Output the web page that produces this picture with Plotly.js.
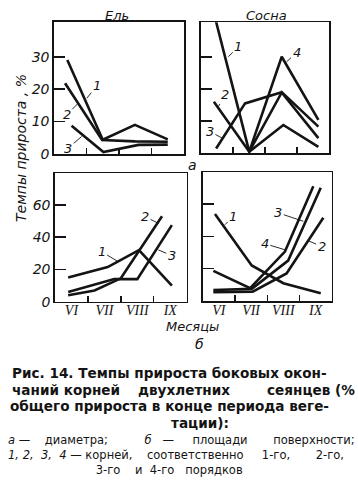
<!DOCTYPE html>
<html><head><meta charset="utf-8">
<script src="https://cdn.plot.ly/plotly-3.0.1.min.js"></script>
<style>html,body{margin:0;padding:0;background:#fff;}#chart{width:358px;height:489px;}</style>
</head><body><div id="chart"></div>
<script>
// Month categories (x axis), positions of month centres
const months = ['VI', 'VII', 'VIII', 'IX'];
const monthPos = [0.5, 1.5, 2.5, 3.5];
const monthBounds = [1, 2, 3];
const yTicksA = [0, 10, 20, 30];
const yTicksB = [0, 20, 40, 60];

// а — диаметр, Ель (spruce)
const elA1x = [0.41, 1.5, 2.49, 3.5],  elA1y = [29, 4.4, 9, 4.5];
const elA2x = [0.34, 1.48, 2.49, 3.5], elA2y = [21.8, 4.3, 3.9, 3.8];
const elA3x = [0.54, 1.52, 2.6, 3.5],  elA3y = [8.7, 0.6, 2.8, 2.9];

// а — диаметр, Сосна (pine)
const soA1x = [0.45, 1.51, 2.57, 3.66], soA1y = [42, 0.5, 8.8, 2.0];
const soA2x = [0.41, 1.51, 2.52, 3.66], soA2y = [16, 0.5, 18.9, 4.7];
const soA3x = [0.48, 1.38, 2.52, 3.66], soA3y = [1.5, 15.5, 19, 8.3];
const soA4x = [1.51, 2.52, 3.66],       soA4y = [0.5, 30, 10.4];

// б — площадь поверхности, Ель
const elB1x = [0.4, 1.6, 2.55, 3.55], elB1y = [15, 21.5, 32, 10];
const elB2x = [0.4, 1.2, 2.0, 3.25],  elB2y = [4, 7, 14.5, 53];
const elB3x = [0.4, 1.8, 2.5, 3.55],  elB3y = [6, 14, 14, 47.5];

// б — площадь поверхности, Сосна
const soB1x = [0.38, 1.52, 2.5, 3.66],  soB1y = [53.8, 22, 11, 4.8];
const soB2x = [0.33, 1.55, 2.6, 3.74],  soB2y = [5.4, 5.8, 17, 51.5];
const soB3x = [0.33, 1.52, 2.65, 3.66], soB3y = [6.8, 7.5, 25, 70];
const soB4x = [0.33, 1.47, 2.55, 3.43], soB4y = [18.6, 7.9, 30.6, 71];

const INK = '#141414';
const italic = (size, fam) => ({family: fam || 'DejaVu Sans, sans-serif', size: size, color: INK, style: 'italic'});

function line(x, y, xa, ya) {
  return {x: x, y: y, xaxis: xa, yaxis: ya, mode: 'lines', type: 'scatter',
    line: {color: INK, width: 2.6}, hoverinfo: 'skip', showlegend: false};
}

const traces = [
  line(elA1x, elA1y, 'x', 'y'), line(elA2x, elA2y, 'x', 'y'), line(elA3x, elA3y, 'x', 'y'),
  line(soA1x, soA1y, 'x2', 'y2'), line(soA2x, soA2y, 'x2', 'y2'), line(soA3x, soA3y, 'x2', 'y2'), line(soA4x, soA4y, 'x2', 'y2'),
  line(elB1x, elB1y, 'x3', 'y3'), line(elB2x, elB2y, 'x3', 'y3'), line(elB3x, elB3y, 'x3', 'y3'),
  line(soB1x, soB1y, 'x4', 'y4'), line(soB2x, soB2y, 'x4', 'y4'), line(soB3x, soB3y, 'x4', 'y4'), line(soB4x, soB4y, 'x4', 'y4')
];

const W = 358, H = 489;
const dx = (a, b) => [a / W, b / W];
const dy = (top, bot) => [1 - bot / H, 1 - top / H];

function xax(dom, labels, anchor) {
  return {domain: dom, anchor: anchor, range: [0, 4], showgrid: false, zeroline: false,
    showline: true, linecolor: INK, linewidth: 1.7, mirror: true,
    tickmode: 'array', tickvals: monthPos, ticktext: months, ticks: '', ticklen: 0,
    ticklabelstandoff: -5,
    showticklabels: labels, tickfont: italic(14, 'Liberation Serif, serif'),
    minor: {tickmode: 'array', tickvals: monthBounds, ticks: 'inside', ticklen: 6, tickwidth: 1.4, tickcolor: INK},
    fixedrange: true};
}
function yax(dom, rng, tv, labels, anchor) {
  return {domain: dom, anchor: anchor, range: rng, showgrid: false, zeroline: false,
    showline: true, linecolor: INK, linewidth: 1.7, mirror: true,
    tickmode: 'array', tickvals: tv, ticks: 'inside', ticklen: 11, tickwidth: 1.6, tickcolor: INK,
    showticklabels: labels, tickfont: italic(14), fixedrange: true};
}

function lab(t, xr, yr, x, y, ax, ay) {
  return {text: t, xref: xr, yref: yr, x: x, y: y, ax: ax, ay: ay, showarrow: true,
    arrowhead: 0, arrowwidth: 0.9, arrowcolor: INK, standoff: 0, startstandoff: 0,
    font: italic(13)};
}
function txt(t, x, y, font, anchor) {
  return {text: t, xref: 'paper', yref: 'paper', x: x / W, y: 1 - y / H, showarrow: false,
    xanchor: anchor || 'center', yanchor: 'middle', font: font};
}

const capFont = {family: 'DejaVu Sans, sans-serif', size: 13.6, color: INK, weight: 'bold'};
const SMALL = 11.5;
const smallFont = {family: 'DejaVu Sans, sans-serif', size: SMALL, color: INK};

// justified legend lines: words are placed at their reference start positions with no-break spaces,
// measured with an SVG text element so that widths match the SVG rendering
const svgNS = 'http://www.w3.org/2000/svg';
const mSvg = document.createElementNS(svgNS, 'svg');
mSvg.setAttribute('width', '10'); mSvg.setAttribute('height', '10');
const mTxt = document.createElementNS(svgNS, 'text');
mTxt.setAttribute('style', 'font-family:"DejaVu Sans",sans-serif;font-size:' + SMALL + 'px;white-space:pre;');
mSvg.appendChild(mTxt);
document.body.appendChild(mSvg);
function measure(t) {
  mTxt.textContent = t;
  return mTxt.getComputedTextLength();
}
function placeWords(items, x0) {
  let s = '', plain = '';
  items.forEach((w, i) => {
    let n = 0;
    while (x0 + measure(plain + '\u00A0'.repeat(n + 1)) <= w[1] + 0.5 || (i > 0 && n < 1)) n++;
    s += '\u00A0'.repeat(n); plain += '\u00A0'.repeat(n);
    s += w[2] ? '<i>' + w[0] + '</i>' : w[0];
    plain += w[0];
  });
  return s;
}
const L0 = 8;
const legendText = [
  placeWords([['а', 8, 1], ['—', 20], ['диаметра;', 45], ['б', 147, 1], ['—', 163], ['площади', 192], ['поверхности;', 273]], L0),
  placeWords([['1,', 8, 1], ['2,', 23, 1], ['3,', 42, 1], ['4', 60, 1], ['—', 67], ['корней,', 84], ['соответственно', 147], ['1-го,', 263], ['2-го,', 318]], L0),
  placeWords([['3-го', 98], ['и', 135], ['4-го', 152], ['порядков', 188]], L0)
].join('<br>');
document.body.removeChild(mSvg);

const annotations = [
  // line labels
  lab('1', 'x', 'y', 1.01, 17.2, 10, -12.6),
  lab('2', 'x', 'y', 0.72, 15.4, -10.6, 10.7),
  lab('3', 'x', 'y', 0.85, 5.4, -13.4, 11.6),
  lab('1', 'x2', 'y2', 0.86, 30, 10, -10),
  lab('2', 'x2', 'y2', 0.55, 14.5, 6.7, -11.7),
  lab('3', 'x2', 'y2', 0.67, 4.7, -12.3, -6.6),
  lab('4', 'x2', 'y2', 2.67, 28.4, 10, -9.4),
  lab('1', 'x3', 'y3', 1.92, 24.8, -16.6, -10),
  lab('2', 'x3', 'y3', 3.14, 48.6, -13.3, -6.6),
  lab('3', 'x3', 'y3', 3.14, 32.1, 13.4, 5.7),
  lab('1', 'x4', 'y4', 0.69, 47.2, 8.3, -8.3),
  lab('3', 'x4', 'y4', 3.12, 49.3, -25, -8.4),
  lab('4', 'x4', 'y4', 2.55, 31.7, -20, -6),
  lab('2', 'x4', 'y4', 3.27, 37.3, 13.4, 5.7),
  // panel titles and letters
  txt('Ель', 117, 15, italic(13)),
  txt('Сосна', 266, 15, italic(13)),
  txt('а', 192, 165, italic(14)),
  txt('Месяцы', 192, 326, italic(13)),
  txt('б', 199, 344, italic(14)),
  {text: 'Темпы прироста , %', xref: 'paper', yref: 'paper', x: 21 / W, y: 1 - 148 / H,
    showarrow: false, textangle: -90, xanchor: 'center', yanchor: 'middle', font: italic(14)},
  // caption
  txt('Рис. 14. Темпы прироста боковых окон-', 10, 373, capFont, 'left'),
  txt('чаний корней', 10, 390, capFont, 'left'),
  txt('двухлетних', 184, 390, capFont, 'center'),
  txt('сеянцев (%', 357, 390, capFont, 'right'),
  txt('общего прироста в конце периода веге-', 8, 406, capFont, 'left'),
  txt('тации):', 200, 423, capFont, 'center'),
  {text: legendText, xref: 'paper', yref: 'paper', x: L0 / W, y: 1 - 455 / H, showarrow: false,
    xanchor: 'left', yanchor: 'middle', align: 'left', borderpad: 0, borderwidth: 0, font: smallFont}
];

const layout = {
  width: W, height: H, margin: {l: 0, r: 0, t: 0, b: 0},
  paper_bgcolor: '#fff', plot_bgcolor: '#fff', showlegend: false,
  xaxis:  xax(dx(54, 184), false, 'y'),
  yaxis:  yax(dy(22, 154), [0, 40.7], yTicksA, true, 'x'),
  xaxis2: xax(dx(200.7, 329.3), false, 'y2'),
  yaxis2: yax(dy(22.3, 153.3), [0, 40.7], yTicksA, false, 'x2'),
  xaxis3: xax(dx(55, 186.7), true, 'y3'),
  yaxis3: yax(dy(173.3, 301.7), [0, 79.6], yTicksB, true, 'x3'),
  xaxis4: xax(dx(202.7, 331.7), true, 'y4'),
  yaxis4: yax(dy(172.3, 301), [0, 79.6], yTicksB, false, 'x4'),
  annotations: annotations
};

Plotly.newPlot('chart', traces, layout, {staticPlot: true, displayModeBar: false});
</script>
</body></html>
